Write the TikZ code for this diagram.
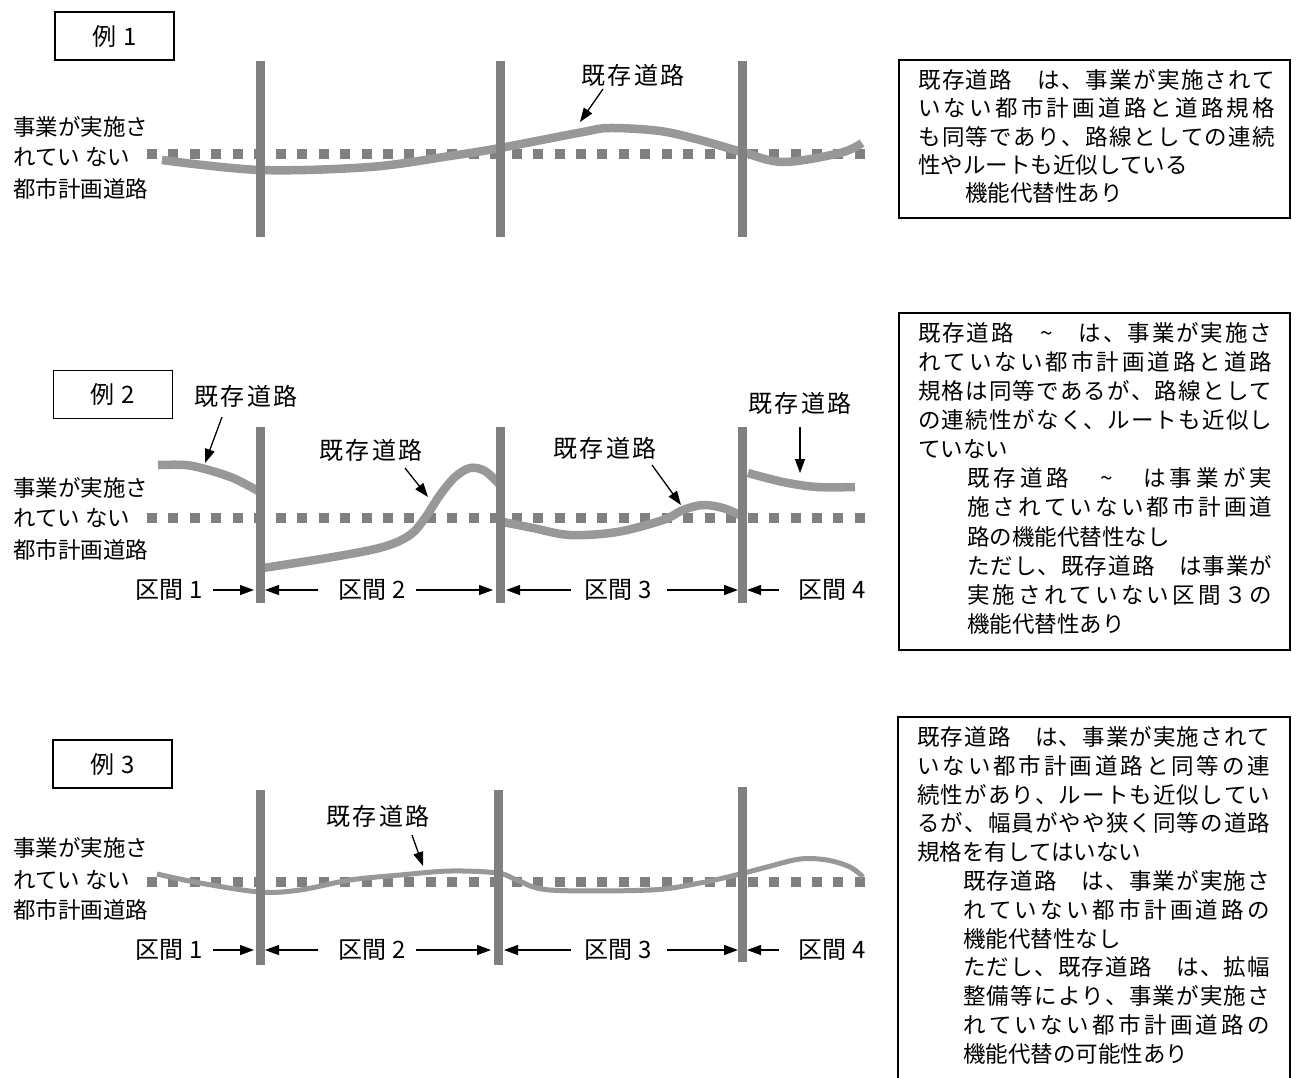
\documentclass[tikz,border=0pt]{standalone}
\usepackage{fontspec}
\setmainfont{Noto Sans CJK JP}
\usetikzlibrary{arrows.meta}
\definecolor{bargray}{HTML}{808080}
\definecolor{roadgray}{HTML}{989898}
\makeatletter
\newcommand\spreadto[2]{\hbox to #1{\@tfor\spr@x:=#2\do{\spr@x\hfil}\unskip}}
\makeatother
\begin{document}
\begin{tikzpicture}[x=1pt,y=-1pt,
  bar/.style={draw=bargray, line width=9pt},
  plan/.style={draw=bargray, line width=10pt, dash pattern=on 10pt off 11.45pt},
  road/.style={draw=roadgray, line width=8.5pt},
  roadthin/.style={draw=roadgray, line width=5pt},
  tbox/.style={draw, line width=1.2pt, minimum width=119pt, minimum height=48pt, inner sep=0pt, font=\fontsize{24}{28}\selectfont},
  lbl/.style={inner sep=0pt, font=\fontsize{24}{28}\selectfont},
  side/.style={inner sep=0pt, anchor=west, font=\fontsize{22.5}{27}\selectfont},
  txt/.style={inner sep=0pt, anchor=west, font=\fontsize{22.5}{27}\selectfont},
  ptr/.style={-{Triangle[length=14pt,width=10pt]}, line width=1.3pt},
  frame/.style={draw, line width=1.3pt}]
\useasboundingbox (0,0) rectangle (1298,1077);
\fill[white] (0,0) rectangle (1298,1077);

% ================= Example 1 =================
\node[tbox] (t1) at (114.5,36) {例\hspace{7pt}1};
\node[side] (s1a) at (13,127) {事業が実施さ};
\node[side] (s1b) at (13,157) {れてい ない};
\node[side] (s1c) at (13,189) {都市計画道路};
\draw[plan] (147,154) -- (865,154);
\draw[road] plot[smooth, tension=0.55] coordinates {(162,160) (260,170) (370,167) (450,156) (500,148) (583,132) (610,128) (660,131) (700,140) (742,152) (783,162) (840,153) (862,143)};
\draw[bar] (260,61) -- (260,237);
\draw[bar] (500,61) -- (500,237);
\draw[bar] (742,61) -- (742,237);
\node[lbl] (r1) at (633,75) {\spreadto{103pt}{既存道路}};
\coordinate (r1s) at (603,89);
\coordinate (r1e) at (580,122);
\draw[ptr] (r1s) -- (r1e);

\draw[frame] (899,60) rectangle (1290,218);
\node[txt] (b1l1) at (918,80) {\spreadto{357pt}{既存道路　は、事業が実施されて}};
\node[txt] (b1l2) at (918,108) {\spreadto{357pt}{いない都市計画道路と道路規格}};
\node[txt] (b1l3) at (918,137) {\spreadto{357pt}{も同等であり、路線としての連続}};
\node[txt] (b1l4) at (918,165) {性やルートも近似している};
\node[txt] (b1l5) at (965,193) {機能代替性あり};

% ================= Example 2 =================
\node[tbox] (t2) at (113,394.5) {例\hspace{7pt}2};
\node[side] (s2a) at (13,488) {事業が実施さ};
\node[side] (s2b) at (13,518) {れてい ない};
\node[side] (s2c) at (13,550) {都市計画道路};
\draw[plan] (147,518) -- (865,518);
\draw[road] plot[smooth, tension=0.55] coordinates {(158,465) (185,465) (205,469) (233,478) (260,492)};
\draw[road] plot[smooth, tension=0.55] coordinates {(263,568) (333,557) (383,547) (410,535) (425,518) (440,495) (455,477) (470,468) (485,471) (500,485)};
\draw[road] plot[smooth, tension=0.55] coordinates {(503,522) (533,528) (570,535) (617,532) (663,520) (683,510) (703,505) (723,508) (740,515)};
\draw[road] plot[smooth, tension=0.55] coordinates {(748,473) (783,482) (817,487) (855,487)};
\draw[bar] (260,427) -- (260,603);
\draw[bar] (500,427) -- (500,603);
\draw[bar] (742,427) -- (742,603);
\node[lbl] (r2a) at (246,396) {\spreadto{103pt}{既存道路}};
\node[lbl] (r2b) at (371,450) {\spreadto{103pt}{既存道路}};
\node[lbl] (r2c) at (605,448) {\spreadto{103pt}{既存道路}};
\node[lbl] (r2d) at (800,403) {\spreadto{103pt}{既存道路}};
\coordinate (r2as) at (222,417); \coordinate (r2ae) at (205,463);
\coordinate (r2bs) at (405,468); \coordinate (r2be) at (428,497);
\coordinate (r2cs) at (652,465); \coordinate (r2ce) at (681,505);
\coordinate (r2ds) at (800,427); \coordinate (r2de) at (800,473);
\draw[ptr] (r2as) -- (r2ae);
\draw[ptr] (r2bs) -- (r2be);
\draw[ptr] (r2cs) -- (r2ce);
\draw[ptr] (r2ds) -- (r2de);
% intervals
\node[lbl] (k21) at (169,590) {区間 1};
\node[lbl] (k22) at (372,590) {区間 2};
\node[lbl] (k23) at (618,590) {区間 3};
\node[lbl] (k24) at (832,590) {区間 4};
\coordinate (p21a) at (254,590); \coordinate (p22a) at (265,590);
\coordinate (p22b) at (493,590); \coordinate (p23a) at (506,590);
\coordinate (p23b) at (738,590); \coordinate (p24a) at (747,590);
\draw[ptr] ([xshift=10pt]k21.east) -- (p21a);
\draw[ptr] ([xshift=-20pt]k22.west) -- (p22a);
\draw[ptr] ([xshift=10pt]k22.east) -- (p22b);
\draw[ptr] ([xshift=-13pt]k23.west) -- (p23a);
\draw[ptr] ([xshift=15pt]k23.east) -- (p23b);
\draw[ptr] ([xshift=-19pt]k24.west) -- (p24a);

\draw[frame] (899,313) rectangle (1290,650);
\node[txt] (b2l1) at (918,333) {\spreadto{354pt}{既存道路　{\textasciitilde}　は、事業が実施さ}};
\node[txt] (b2l2) at (918,362) {\spreadto{354pt}{れていない都市計画道路と道路}};
\node[txt] (b2l3) at (918,391) {\spreadto{354pt}{規格は同等であるが、路線として}};
\node[txt] (b2l4) at (918,420) {\spreadto{354pt}{の連続性がなく、ルートも近似し}};
\node[txt] (b2l5) at (918,449) {ていない};
\node[txt] (b2l6) at (967,478) {\spreadto{305pt}{既存道路　{\textasciitilde}　は事業が実}};
\node[txt] (b2l7) at (967,507) {\spreadto{305pt}{施されていない都市計画道}};
\node[txt] (b2l8) at (967,537) {路の機能代替性なし};
\node[txt] (b2l9) at (967,566) {\spreadto{305pt}{ただし、既存道路　は事業が}};
\node[txt] (b2l10) at (967,595) {\spreadto{305pt}{実施されていない区間３の}};
\node[txt] (b2l11) at (967,624) {機能代替性あり};

% ================= Example 3 =================
\node[tbox] (t3) at (112.5,764) {例\hspace{7pt}3};
\node[side] (s3a) at (13,848) {事業が実施さ};
\node[side] (s3b) at (13,880) {れてい ない};
\node[side] (s3c) at (13,910) {都市計画道路};
\draw[plan] (147,882) -- (865,882);
\draw[roadthin] plot[smooth, tension=0.55] coordinates {(157,874) (200,883) (260,892) (300,890) (350,880) (400,875) (450,871) (498,873) (517,880) (550,890) (650,890) (700,883) (740,874) (767,867) (800,859) (827,860) (850,867) (863,877)};
\draw[bar] (260,790) -- (260,965);
\draw[bar] (498,790) -- (498,965);
\draw[bar] (742,787) -- (742,962);
\node[lbl] (r3) at (378,816) {\spreadto{103pt}{既存道路}};
\coordinate (r3s) at (412,835);
\coordinate (r3e) at (423,866);
\draw[ptr] (r3s) -- (r3e);
\node[lbl] (k31) at (169,950) {区間 1};
\node[lbl] (k32) at (372,950) {区間 2};
\node[lbl] (k33) at (618,950) {区間 3};
\node[lbl] (k34) at (832,950) {区間 4};
\coordinate (p31a) at (254,950); \coordinate (p32a) at (265,950);
\coordinate (p32b) at (491,950); \coordinate (p33a) at (504,950);
\coordinate (p33b) at (738,950); \coordinate (p34a) at (747,950);
\draw[ptr] ([xshift=10pt]k31.east) -- (p31a);
\draw[ptr] ([xshift=-20pt]k32.west) -- (p32a);
\draw[ptr] ([xshift=10pt]k32.east) -- (p32b);
\draw[ptr] ([xshift=-13pt]k33.west) -- (p33a);
\draw[ptr] ([xshift=15pt]k33.east) -- (p33b);
\draw[ptr] ([xshift=-19pt]k34.west) -- (p34a);

\draw[frame] (898,1080) -- (898,717) -- (1290,717) -- (1290,1080);
\node[txt] (b3l1) at (917,737) {\spreadto{353pt}{既存道路　は、事業が実施されて}};
\node[txt] (b3l2) at (917,766) {\spreadto{353pt}{いない都市計画道路と同等の連}};
\node[txt] (b3l3) at (917,795) {\spreadto{353pt}{続性があり、ルートも近似してい}};
\node[txt] (b3l4) at (917,823) {\spreadto{353pt}{るが、幅員がやや狭く同等の道路}};
\node[txt] (b3l5) at (917,852) {規格を有してはいない};
\node[txt] (b3l6) at (963,881) {\spreadto{307pt}{既存道路　は、事業が実施さ}};
\node[txt] (b3l7) at (963,910) {\spreadto{307pt}{れていない都市計画道路の}};
\node[txt] (b3l8) at (963,939) {機能代替性なし};
\node[txt] (b3l9) at (963,967) {\spreadto{307pt}{ただし、既存道路　は、拡幅}};
\node[txt] (b3l10) at (963,996) {\spreadto{307pt}{整備等により、事業が実施さ}};
\node[txt] (b3l11) at (963,1025) {\spreadto{307pt}{れていない都市計画道路の}};
\node[txt] (b3l12) at (963,1054) {機能代替の可能性あり};
\end{tikzpicture}
\end{document}
